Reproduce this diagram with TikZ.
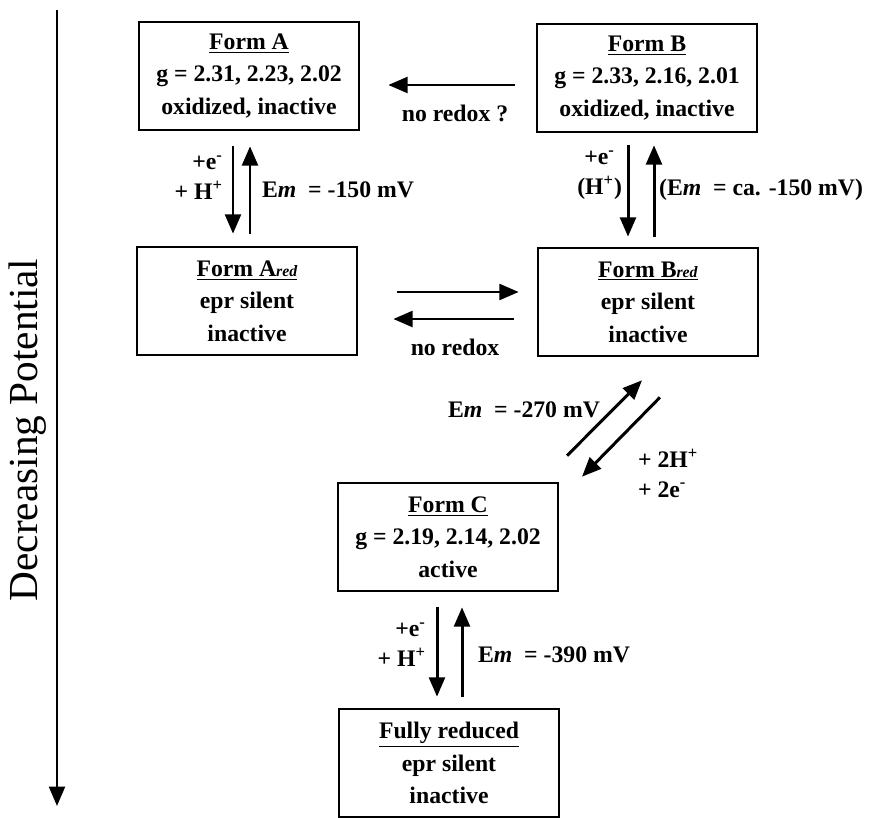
\documentclass[tikz,border=0pt]{standalone}
\usepackage{fontspec}
\setmainfont{Liberation Serif}
\usepackage{tikz}
\usetikzlibrary{positioning,arrows.meta,calc}
\newcommand\emv{E\textit{m}}

\begin{document}
\begin{tikzpicture}[x=0.02cm, y=-0.02cm,
  formbox/.style={draw, line width=1.5pt, align=center, inner sep=0pt,
    font=\fontsize{13.5}{18.5}\selectfont\bfseries,
    minimum width=4.4cm, minimum height=2.16cm},
  rxn/.style={line width=1.7pt, -{Triangle[length=11pt,width=9pt]}},
  lbl/.style={font=\fontsize{13.5}{17}\selectfont\bfseries, inner sep=1pt}]
  \useasboundingbox (0,0) rectangle (871,817);

  % potential axis
  \coordinate (axtop) at (57,10);
  \coordinate (axbot) at (57,806);
  \draw[line width=1.4pt, -{Triangle[length=11pt,width=9pt]}] (axtop) -- (axbot);
  \node[rotate=90, font=\fontsize{23.5}{28}\selectfont] (axlabel) at (28,430) {Decreasing Potential};

  % forms
  \node[formbox] (formA) at (249,76) {\underline{Form A}\\ g = 2.31, 2.23, 2.02\\ oxidized, inactive};
  \node[formbox] (formB) at (647,78) {\underline{Form B}\\ g = 2.33, 2.16, 2.01\\ oxidized, inactive};
  \node[formbox] (formAred) at (247,301) {\underline{Form A\textit{\small red}}\\ epr silent\\ inactive};
  \node[formbox] (formBred) at (648,302) {\underline{Form B\textit{\small red}}\\ epr silent\\ inactive};
  \node[formbox] (formC) at (448,537) {\underline{Form C}\\ g = 2.19, 2.14, 2.02\\ active};
  \node[formbox] (fullred) at (449,763) {\underline{Fully reduced}\\ epr silent\\ inactive};

  % A <- B
  \draw[rxn] ($(formB.west)+(-21,7)$) -- ($(formA.east)+(28,9)$);
  \node[lbl] (lblAB) at (455,113) {no redox ?};

  % A <-> Ared
  \draw[rxn] ($(formA.south)+(-16,15)$) -- ($(formAred.north)+(-14,-12)$);
  \draw[rxn] ($(formAred.north)+(3,-12)$) -- ($(formA.south)+(1,15)$);
  \node[lbl, align=right, anchor=east] (lblAdn) at (225,178) {+e\textsuperscript{-}\\ + H\textsuperscript{+}};
  \node[lbl, anchor=west] (lblAup) at (260,190) {\emv\ \ = -150 mV};

  % B <-> Bred
  \draw[rxn] ($(formB.south)+(-19,12)$) -- ($(formBred.north)+(-20,-10)$);
  \draw[rxn] ($(formBred.north)+(6,-10)$) -- ($(formB.south)+(7,12)$);
  \node[lbl, align=center, anchor=east] (lblBdn) at (624,175) {+e\textsuperscript{-}\\ (H\textsuperscript{+})};
  \node[lbl, anchor=west] (lblBup) at (657,190) {(\emv\ \ = ca. -150 mV)};

  % Ared <-> Bred
  \draw[rxn] ($(formAred.east)+(39,-9)$) -- ($(formBred.west)+(-18,-10)$);
  \draw[rxn] ($(formBred.west)+(-23,17)$) -- ($(formAred.east)+(35,18)$);
  \node[lbl] (lblAB2) at (455,347) {no redox};

  % Bred <-> C
  \draw[rxn] ($(formC.north)+(119,-26)$) -- ($(formBred.south)+(-6,23)$);
  \draw[rxn] ($(formBred.south)+(12,40)$) -- ($(formC.north)+(134,-5)$);
  \node[lbl, anchor=east] (lblCup) at (602,410) {\emv\ \ = -270 mV};
  \node[lbl, align=left, anchor=west] (lblCdn) at (636,473) {+ 2H\textsuperscript{+}\\ + 2e\textsuperscript{-}};

  % C <-> fully reduced
  \draw[rxn] ($(formC.south)+(-11,15)$) -- ($(fullred.north)+(-12,-11)$);
  \draw[rxn] ($(fullred.north)+(13,-11)$) -- ($(formC.south)+(14,15)$);
  \node[lbl, align=right, anchor=east] (lblCdn2) at (428,645) {+e\textsuperscript{-}\\ + H\textsuperscript{+}};
  \node[lbl, anchor=west] (lblCup2) at (476,655) {\emv\ \ = -390 mV};
\end{tikzpicture}
\end{document}
